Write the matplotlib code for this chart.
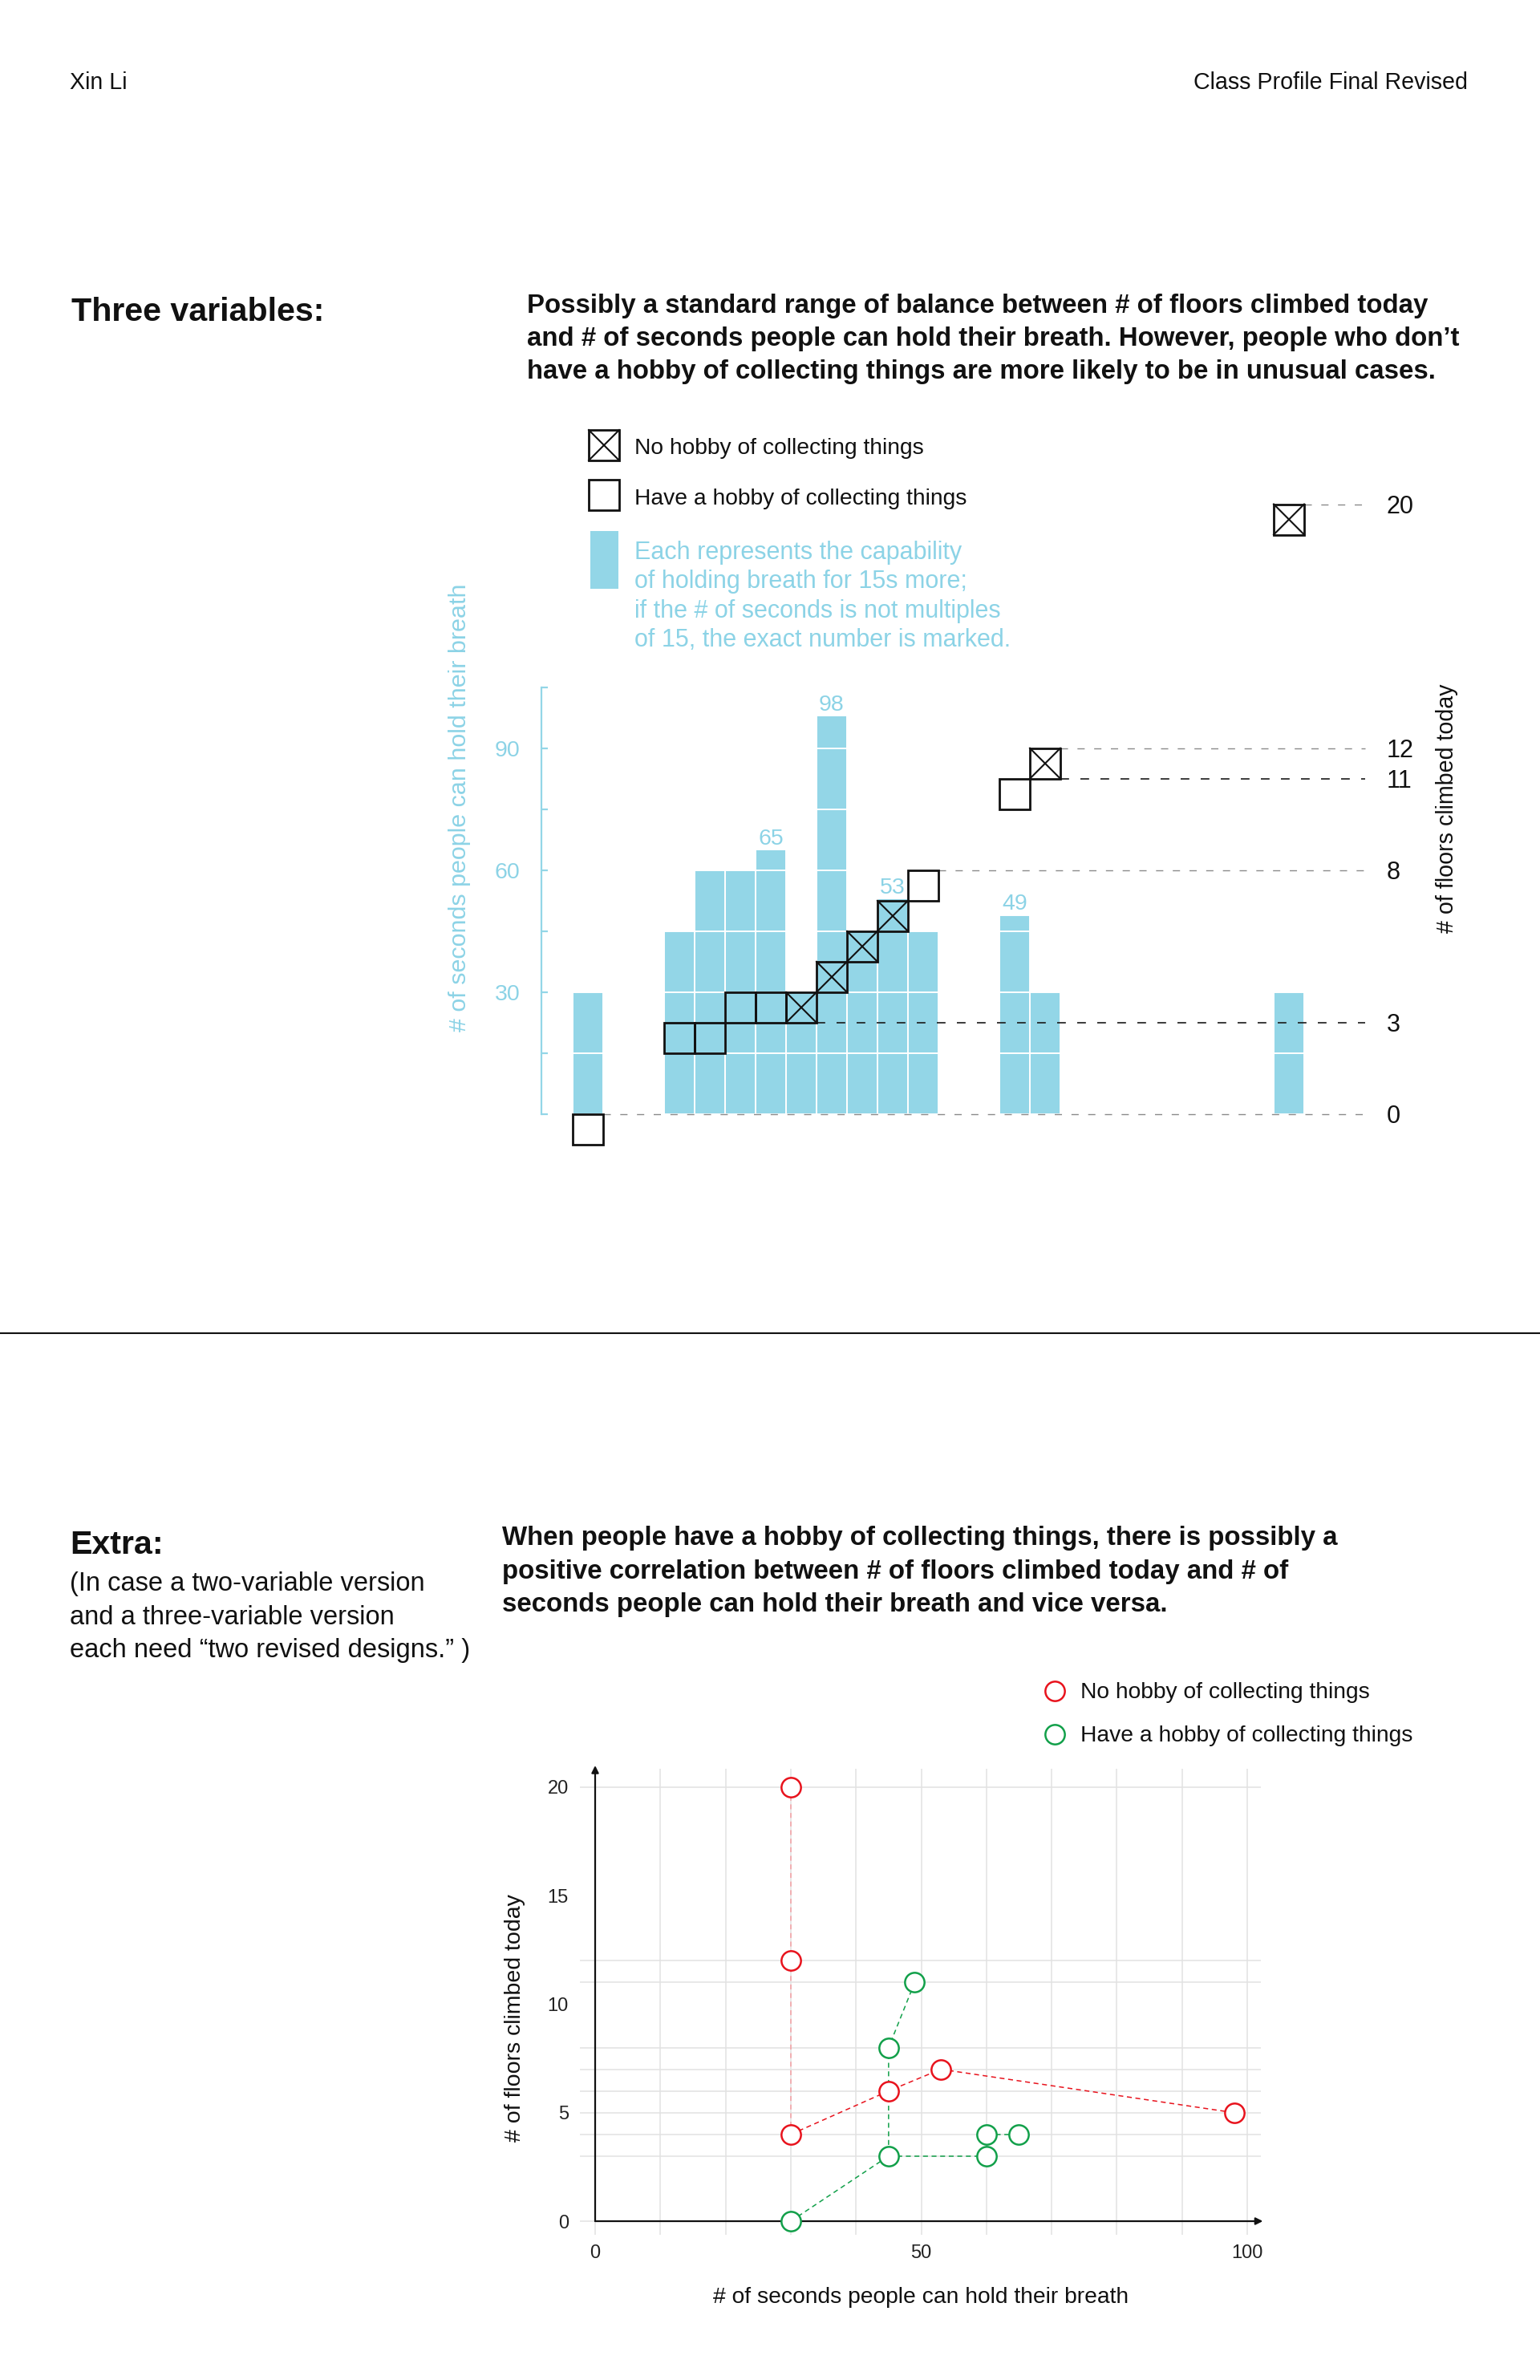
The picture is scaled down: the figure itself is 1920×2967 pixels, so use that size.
import numpy as np
import matplotlib.pyplot as plt
from matplotlib.patches import Rectangle

plt.rcParams['font.family'] = ['Liberation Sans', 'DejaVu Sans']

# one entry per person, sorted by floors climbed today
secs   = [30, 45, 60, 60, 65, 30, 98, 45, 53, 45, 49, 30, 30]
floors = [0, 3, 3, 4, 4, 4, 5, 6, 7, 8, 11, 12, 20]
hobby  = [1, 1, 1, 1, 1, 0, 0, 0, 0, 1, 1, 0, 0]

floor_ticks = [0, 3, 8, 11, 12, 20]
dark_guides = [3, 11]
sec_ticks = [30, 60, 90]

# dashed links in the scatter (indices into the lists above)
red_light_path = [12, 11, 5]
red_path = [5, 7, 8, 6]
green_paths = [[0, 1, 9, 10], [1, 2, 3, 4]]

BLUE = '#93d6e7'
BLUE_TXT = '#8cd3e6'
INK = '#111111'
RED = '#e8131d'
PINK = '#f4a0a4'
GREEN = '#12a04a'
GRID = '#e2e2e2'

secs = np.array(secs)
floors = np.array(floors)
hobby = np.array(hobby, dtype=bool)

# column of each person: its floor value, pushed right by earlier ties
cols = []
seen = set()
for i, f in enumerate(floors):
    seen.add(f)
    cols.append(f + i - len(seen) + 1)
cols = np.array(cols)

W, H = 1920, 2967
fig = plt.figure(figsize=(W / 100, H / 100), dpi=100)


def box(l, t, r, b):
    return [l / W, 1 - b / H, (r - l) / W, (b - t) / H]


# overlay in pixel units for the page text
ov = fig.add_axes([0, 0, 1, 1])
ov.set_xlim(0, W)
ov.set_ylim(H, 0)
ov.axis('off')

hdr_l = ov.text(87, 111, 'Xin Li', fontsize=19, color=INK)
hdr_r = ov.text(1830, 111, 'Class Profile Final Revised', fontsize=19, color=INK, ha='right')

three = ov.text(89, 400, 'Three variables:', fontsize=29, fontweight='bold', color=INK)
para1 = ['Possibly a standard range of balance between # of floors climbed today',
         'and # of seconds people can hold their breath. However, people who don\u2019t',
         'have a hobby of collecting things are more likely to be in unusual cases.']
p1 = [ov.text(657, yb, s, fontsize=19, fontweight='bold', color=INK)
      for s, yb in zip(para1, [390, 431, 472])]

# legend of the top chart
ov.add_patch(Rectangle((734, 536), 38, 38, fill=False, ec=INK, lw=2.0))
ov.plot([734, 772], [536, 574], color=INK, lw=1.5)
ov.plot([734, 772], [574, 536], color=INK, lw=1.5)
ov.add_patch(Rectangle((734, 598), 38, 38, fill=False, ec=INK, lw=2.0))
ov.add_patch(Rectangle((736, 662), 35, 72, color=BLUE, lw=0))
leg_no = ov.text(791, 566, 'No hobby of collecting things', fontsize=20, color=INK)
leg_have = ov.text(791, 629, 'Have a hobby of collecting things', fontsize=20, color=INK)
blue_lines = ['Each represents the capability', 'of holding breath for 15s more;',
              'if the # of seconds is not multiples', 'of 15, the exact number is marked.']
bl = [ov.text(791, yb, s, fontsize=20, color=BLUE_TXT)
      for s, yb in zip(blue_lines, [697, 733, 770, 806])]

ov.plot([0, W], [1662, 1662], color=INK, lw=1.5)

extra = ov.text(87, 1937, 'Extra:', fontsize=29, fontweight='bold', color=INK)
note = ['(In case a two-variable version', 'and a three-variable version',
        'each need \u201ctwo revised designs.\u201d )']
nt = [ov.text(87, yb, s, fontsize=20, color=INK) for s, yb in zip(note, [1983, 2025, 2066])]
para2 = ['When people have a hobby of collecting things, there is possibly a',
         'positive correlation between # of floors climbed today and # of',
         'seconds people can hold their breath and vice versa.']
p2 = [ov.text(626, yb, s, fontsize=19, fontweight='bold', color=INK)
      for s, yb in zip(para2, [1926, 1968, 2009])]

# legend of the scatter
ov.plot([1315], [2108], 'o', ms=17.5, mfc='white', mec=RED, mew=1.8)
ov.plot([1315], [2162], 'o', ms=17.5, mfc='white', mec=GREEN, mew=1.8)
sl_no = ov.text(1347, 2117, 'No hobby of collecting things', fontsize=20, color=INK)
sl_have = ov.text(1347, 2171, 'Have a hobby of collecting things', fontsize=20, color=INK)

# ---------------- top chart ----------------
SPX, CPX = 5.07, 38.0
x0, y0 = 714, 1389
xl, yl = (-4, 29.5), (-10, 156)
ax = fig.add_axes(box(x0 + xl[0] * CPX, y0 - yl[1] * SPX, x0 + xl[1] * CPX, y0 - yl[0] * SPX))
ax.set_xlim(xl)
ax.set_ylim(yl)
ax.patch.set_visible(False)
for s in ['top', 'right', 'bottom']:
    ax.spines[s].set_visible(False)
ax.spines['left'].set_position(('data', -1.03))
ax.spines['left'].set_bounds(0, 105)
ax.spines['left'].set_color(BLUE)
ax.spines['left'].set_linewidth(1.6)
ticks = np.arange(0, 106, 15)
ax.set_yticks(ticks)
ax.set_yticklabels([str(v) if v in sec_ticks else '' for v in ticks])
ax.tick_params(axis='y', direction='in', length=6, width=1.6, color=BLUE,
               labelcolor=BLUE_TXT, labelsize=20.5, pad=19)
ax.set_xticks([])

for c, s in zip(cols, secs):
    bottoms = np.arange(0, s, 15)
    ax.bar(np.full(bottoms.size, c + 0.5), np.minimum(15, s - bottoms), width=1.0,
           bottom=bottoms, color=BLUE, edgecolor='white', linewidth=1.4, zorder=1)
    if s % 15:
        ax.text(c + 0.5, s + 1.3, str(s), ha='center', va='baseline',
                color=BLUE_TXT, fontsize=20.5)

ax.set_ylabel('# of seconds people can hold their breath', color=BLUE_TXT, fontsize=20)
ax.yaxis.set_label_coords(573, 1007, transform=ov.transData)
ax.yaxis.label.set_va('center')

# floors share the same scale: one floor = 7.5 s
ax2 = ax.twinx()
ax2.set_ylim(yl[0] / 7.5, yl[1] / 7.5)
for s in ax2.spines.values():
    s.set_visible(False)
ax2.spines['right'].set_position(('data', 26.3))
ax2.set_yticks(floor_ticks)
ax2.tick_params(axis='y', length=0, pad=11, labelsize=22, labelcolor=INK)

for g in floor_ticks:
    start = max(c + 1 for c, f in zip(cols, floors) if f in (g, g + 1))
    dark = g in dark_guides
    ax2.plot([start, 26.0], [g, g], color='#1a1a1a' if dark else '#8a8a8a',
             lw=1.2 if dark else 1.0, dashes=(6.5, 8.5), zorder=2)

for c, f, h in zip(cols, floors, hobby):
    ax2.add_patch(Rectangle((c, f - 1), 1, 1, fill=False, ec=INK, lw=2.0, zorder=5))
    if not h:
        ax2.plot([c, c + 1], [f - 1, f], color=INK, lw=1.5, zorder=5)
        ax2.plot([c, c + 1], [f, f - 1], color=INK, lw=1.5, zorder=5)

ax2.set_ylabel('# of floors climbed today', color=INK, fontsize=19)
ax2.yaxis.set_label_coords(1804, 1008, transform=ov.transData)
ax2.yaxis.label.set_va('center')

# ---------------- scatter ----------------
XPX, YPX = 8.13, 27.05
sx0, sy0 = 742, 2769
sxl, syl = (-4, 106), (-0.8, 21.2)
sax = fig.add_axes(box(sx0 + sxl[0] * XPX, sy0 - syl[1] * YPX, sx0 + sxl[1] * XPX, sy0 - syl[0] * YPX))
sax.set_xlim(sxl)
sax.set_ylim(syl)
sax.patch.set_visible(False)
for s in sax.spines.values():
    s.set_visible(False)
sax.vlines(np.arange(0, 101, 10), -0.63, 20.85, color=GRID, lw=1.1, zorder=0)
sax.hlines(np.unique(floors), -2.3, 102.1, color=GRID, lw=1.1, zorder=0)
arrow = dict(arrowstyle='-|>', color=INK, lw=1.6, mutation_scale=13, shrinkA=0, shrinkB=0)
sax.annotate('', xy=(102.4, 0), xytext=(0, 0), arrowprops=arrow)
sax.annotate('', xy=(0, 21.0), xytext=(0, 0), arrowprops=arrow)
sax.set_xticks([0, 50, 100])
sax.set_yticks([0, 5, 10, 15, 20])
sax.tick_params(length=0, labelsize=17, labelcolor='#222222')
sax.tick_params(axis='y', pad=0.5)
sax.tick_params(axis='x', pad=5)

sax.plot(secs[red_light_path], floors[red_light_path], color=PINK, lw=1.1, dashes=(4, 3), zorder=2)
sax.plot(secs[red_path], floors[red_path], color=RED, lw=1.1, dashes=(4, 3), zorder=2)
for p in green_paths:
    sax.plot(secs[p], floors[p], color=GREEN, lw=1.1, dashes=(4, 3), zorder=2)
sax.plot(secs[~hobby], floors[~hobby], 'o', ms=17.5, mfc='white', mec=RED, mew=1.8, ls='none', zorder=4)
sax.plot(secs[hobby], floors[hobby], 'o', ms=17.5, mfc='white', mec=GREEN, mew=1.8, ls='none', zorder=4)

sax.set_xlabel('# of seconds people can hold their breath', fontsize=18.6, color=INK)
sax.xaxis.set_label_coords(1148, 2864, transform=ov.transData)
sax.xaxis.label.set_va('center')
sax.set_ylabel('# of floors climbed today', fontsize=18.6, color=INK)
sax.yaxis.set_label_coords(642, 2516, transform=ov.transData)
sax.yaxis.label.set_va('center')

# match text widths to the reference
renderer = fig.canvas.get_renderer()


def fit(t, width, others=()):
    bb = t.get_window_extent(renderer)
    w = max(bb.width, bb.height) if t.get_rotation() else bb.width
    size = t.get_fontsize() * width / w
    t.set_fontsize(size)
    for o in others:
        o.set_fontsize(size)


fit(hdr_r, 342, [hdr_l])
fit(three, 315, [extra])
fit(p1[0], 1125, p1[1:] + p2)
fit(leg_have, 413, [leg_no, sl_no, sl_have])
fit(bl[2], 458, bl[:2] + bl[3:])
fit(nt[0], 441, nt[1:])
fit(ax.yaxis.label, 558)
fit(ax2.yaxis.label, 310)
fit(sax.xaxis.label, 520)
fit(sax.yaxis.label, 310)

fig.savefig('out.png', dpi=100, facecolor='white')
